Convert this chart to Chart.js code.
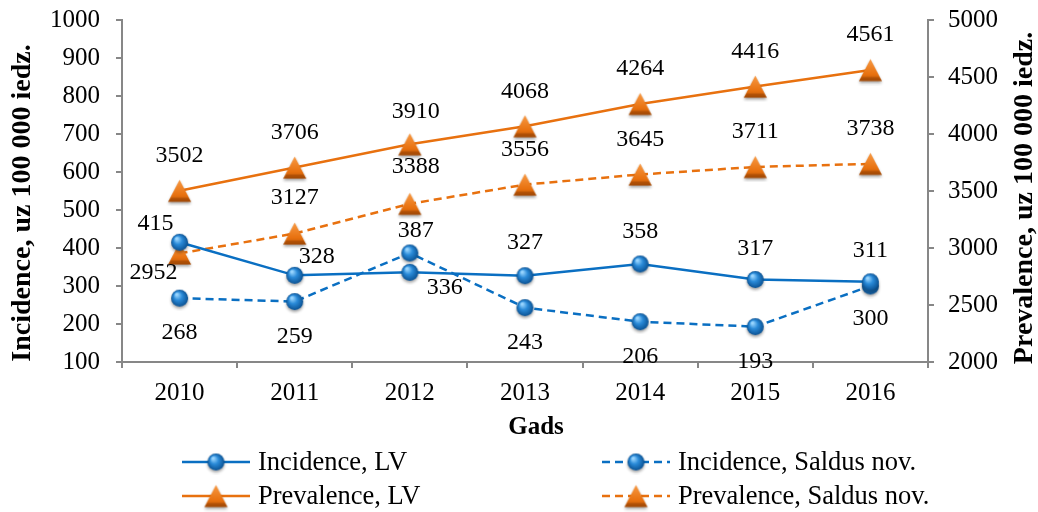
<!DOCTYPE html>
<html>
<head>
<meta charset="utf-8">
<script src="https://cdn.jsdelivr.net/npm/chart.js@4/dist/chart.umd.min.js"></script>
<style>
  html, body { margin: 0; padding: 0; background: #fff; }
  canvas { display: block; }
</style>
</head>
<body>
<canvas id="chart" width="1038" height="512"></canvas>
<script>
const years = ["2010", "2011", "2012", "2013", "2014", "2015", "2016"];
const incidenceLV = [415, 328, 336, 327, 358, 317, 311];
const incidenceSaldus = [268, 259, 387, 243, 206, 193, 300];
const prevalenceLV = [3502, 3706, 3910, 4068, 4264, 4416, 4561];
const prevalenceSaldus = [2952, 3127, 3388, 3556, 3645, 3711, 3738];
const incidenceTicks = [100, 1000, 100]; // min, max, step
const prevalenceTicks = [2000, 5000, 500];

const seriesNames = ["Incidence, LV", "Incidence, Saldus nov.", "Prevalence, LV", "Prevalence, Saldus nov."];

// where each value label sits relative to its point
const labelOffsets = [
  [[-24, -19], [22, -19], [35, 15], [0, -33], [0, -32], [0, -31], [0, -31]],
  [[0, 35], [0, 35], [6, -22], [0, 35], [0, 35], [0, 35], [0, 33]],
  [[0, -35], [0, -35], [6, -33], [0, -35], [0, -35], [0, -35], [0, -35]],
  [[-26, 19], [0, -36], [6, -37], [0, -35], [0, -35], [0, -35], [0, -35]],
];

const BLUE = "#0a6fc2";
const ORANGE = "#e8710f";
const AXIS = "#878787";
const SERIF = "'Liberation Serif', 'Times New Roman', serif";

function makeSphere(r) {
  const s = r * 2 + 8;
  const c = document.createElement("canvas");
  c.width = s;
  c.height = s;
  const g = c.getContext("2d");
  const cx = s / 2, cy = s / 2;
  g.shadowColor = "rgba(0,0,0,0.35)";
  g.shadowBlur = 3;
  g.shadowOffsetY = 2;
  const grad = g.createRadialGradient(cx - r * 0.35, cy - r * 0.45, r * 0.1, cx, cy, r);
  grad.addColorStop(0, "#9ad6ff");
  grad.addColorStop(0.45, "#2a8ad8");
  grad.addColorStop(1, "#0b5293");
  g.fillStyle = grad;
  g.beginPath();
  g.arc(cx, cy, r, 0, Math.PI * 2);
  g.fill();
  return c;
}

function makeTriangle(w, h) {
  const s = Math.max(w, h) + 8;
  const c = document.createElement("canvas");
  c.width = s;
  c.height = s;
  const g = c.getContext("2d");
  const cx = s / 2, cy = s / 2;
  g.shadowColor = "rgba(0,0,0,0.35)";
  g.shadowBlur = 3;
  g.shadowOffsetY = 2;
  const grad = g.createLinearGradient(0, cy - h / 2, 0, cy + h / 2);
  grad.addColorStop(0, "#f79a45");
  grad.addColorStop(0.7, "#e8710f");
  grad.addColorStop(1, "#b85607");
  g.fillStyle = grad;
  g.beginPath();
  g.moveTo(cx, cy - h / 2);
  g.lineTo(cx + w / 2, cy + h / 2);
  g.lineTo(cx - w / 2, cy + h / 2);
  g.closePath();
  g.fill();
  g.shadowColor = "transparent";
  g.fillStyle = "rgba(120,50,0,0.35)";
  g.beginPath();
  g.moveTo(cx - w / 2 + 3, cy + h / 2 - 4);
  g.lineTo(cx + w / 2 - 3, cy + h / 2 - 4);
  g.lineTo(cx + w / 2, cy + h / 2);
  g.lineTo(cx - w / 2, cy + h / 2);
  g.closePath();
  g.fill();
  return c;
}

const sphere = makeSphere(8.5);
const triangle = makeTriangle(23, 22);

const labelsPlugin = {
  id: "valueLabels",
  afterDatasetsDraw(chart) {
    const ctx = chart.ctx;
    ctx.save();
    ctx.font = "24px " + SERIF;
    ctx.fillStyle = "#000";
    ctx.textAlign = "center";
    ctx.textBaseline = "middle";
    chart.data.datasets.forEach((ds, i) => {
      const meta = chart.getDatasetMeta(i);
      meta.data.forEach((pt, j) => {
        const off = labelOffsets[i][j];
        ctx.fillText(String(ds.data[j]), pt.x + off[0], pt.y + off[1]);
      });
    });
    ctx.restore();
  },
};

const decorPlugin = {
  id: "decor",
  afterDraw(chart) {
    const ctx = chart.ctx;
    const area = chart.chartArea;
    ctx.save();
    ctx.fillStyle = "#000";
    ctx.textAlign = "center";
    ctx.textBaseline = "middle";
    ctx.font = "bold 28px " + SERIF;

    ctx.save();
    ctx.translate(23, 203);
    ctx.rotate(-Math.PI / 2);
    ctx.fillText("Incidence, uz 100 000 iedz.", 0, 0);
    ctx.restore();

    ctx.save();
    ctx.translate(1025, 198);
    ctx.rotate(-Math.PI / 2);
    ctx.fillText("Prevalence, uz 100 000 iedz.", 0, 0);
    ctx.restore();

    ctx.font = "bold 25px " + SERIF;
    ctx.fillText("Gads", (area.left + area.right) / 2 + 11, 428);

    // legend, two columns
    const cols = [182, 602];
    const rows = [462, 496];
    ctx.font = "26.5px " + SERIF;
    ctx.textAlign = "left";
    chart.data.datasets.forEach((ds, i) => {
      const x = cols[i % 2];
      const y = rows[Math.floor(i / 2)];
      ctx.save();
      ctx.strokeStyle = ds.borderColor;
      ctx.lineWidth = ds.borderWidth;
      ctx.setLineDash(ds.borderDash || []);
      ctx.beginPath();
      ctx.moveTo(x, y);
      ctx.lineTo(x + 68, y);
      ctx.stroke();
      ctx.restore();
      const img = ds.pointStyle;
      ctx.drawImage(img, x + 34 - img.width / 2, y - img.height / 2);
      ctx.fillText(ds.label, x + 76, y + 1);
    });
    ctx.restore();
  },
};

const tickFont = { family: SERIF, size: 25 };
const plain = (v) => String(v);
// keep the tick label padding from pushing the plot area down
const fixWidth = (w) => (s) => { s.width = w; s.paddingTop = 0; s.paddingBottom = 0; };

new Chart(document.getElementById("chart"), {
  type: "line",
  data: {
    labels: years,
    datasets: [
      {
        label: seriesNames[0], data: incidenceLV, yAxisID: "y",
        borderColor: BLUE, borderWidth: 2.5, pointStyle: sphere,
      },
      {
        label: seriesNames[1], data: incidenceSaldus, yAxisID: "y",
        borderColor: BLUE, borderWidth: 2.5, borderDash: [8, 5], pointStyle: sphere,
      },
      {
        label: seriesNames[2], data: prevalenceLV, yAxisID: "y1",
        borderColor: ORANGE, borderWidth: 2.5, pointStyle: triangle,
      },
      {
        label: seriesNames[3], data: prevalenceSaldus, yAxisID: "y1",
        borderColor: ORANGE, borderWidth: 2.5, borderDash: [8, 5], pointStyle: triangle,
      },
    ],
  },
  options: {
    responsive: false,
    animation: false,
    layout: { padding: { top: 20, bottom: 70, left: 0, right: 0 } },
    plugins: { legend: { display: false }, tooltip: { enabled: false } },
    scales: {
      x: {
        offset: true,
        grid: { offset: true, drawOnChartArea: false, tickLength: 6, color: AXIS, lineWidth: 2 },
        border: { color: AXIS, width: 2 },
        ticks: { font: tickFont, color: "#000", padding: 10, maxRotation: 0 },
        afterFit: (s) => { s.height = 80; },
      },
      y: {
        position: "left",
        min: incidenceTicks[0], max: incidenceTicks[1],
        grid: { drawOnChartArea: false, tickLength: 6, color: AXIS, lineWidth: 2 },
        border: { color: AXIS, width: 2 },
        ticks: { stepSize: incidenceTicks[2], font: tickFont, color: "#000", padding: 16, callback: plain },
        afterFit: fixWidth(122),
      },
      y1: {
        position: "right",
        min: prevalenceTicks[0], max: prevalenceTicks[1],
        grid: { drawOnChartArea: false, tickLength: 6, color: AXIS, lineWidth: 2 },
        border: { color: AXIS, width: 2 },
        ticks: { stepSize: prevalenceTicks[2], font: tickFont, color: "#000", padding: 14, callback: plain },
        afterFit: fixWidth(110),
      },
    },
  },
  plugins: [labelsPlugin, decorPlugin],
});
</script>
</body>
</html>
